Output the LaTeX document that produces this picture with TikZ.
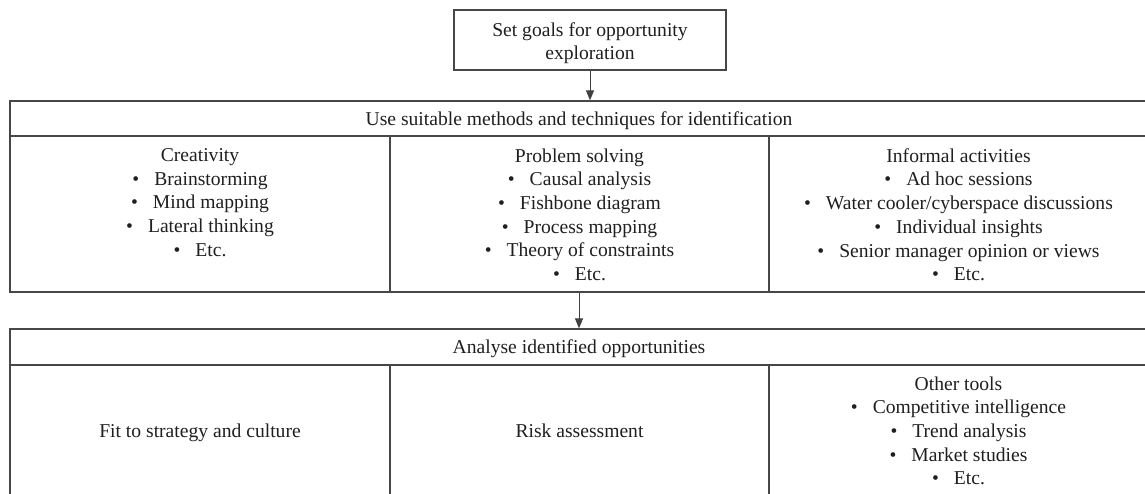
\documentclass[tikz,border=0pt]{standalone}
\usepackage{fontspec}
\setmainfont{Liberation Serif}
\usetikzlibrary{arrows.meta}
% one bullet entry of a centred list
\newcommand{\bul}[1]{\textbullet\hspace{15pt}#1}
\begin{document}
\begin{tikzpicture}[x=1pt,y=1pt,
  frame/.style={draw=black!72, line width=1.3pt, rectangle, inner sep=0pt},
  txt/.style={text=black!88, font=\fontsize{19.6pt}{23.7pt}\selectfont, align=center, inner sep=0pt},
  headtxt/.style={txt, text height=16pt, text depth=3pt},
  flow/.style={draw=black!75, line width=0.9pt, -{Triangle[width=8pt,length=10pt]}}]
\useasboundingbox (0,0) rectangle (1145,-493);
\clip (0,0) rectangle (1145,-493);

% goal setting
\node[frame, txt, minimum width=272pt, minimum height=60pt] (goals) at (590,-40)
  {\rule{0pt}{20pt}Set goals for opportunity\\exploration};

% identification methods
\node[frame, headtxt, minimum width=1138pt, minimum height=35pt] (head1) at (579,-118.5)
  {Use suitable methods and techniques for identification};
\node[frame, minimum width=380pt, minimum height=156pt] (cre) at (200,-214) {};
\node[frame, minimum width=379pt, minimum height=156pt] (ps) at (579.5,-214) {};
\node[frame, minimum width=379pt, minimum height=156pt] (inf) at (958.5,-214) {};
\node[txt, anchor=north] (creT) at (200,-148.2)
  {Creativity\\\bul{Brainstorming}\\\bul{Mind mapping}\\\bul{Lateral thinking}\\\bul{Etc.}};
\node[txt, anchor=north] (psT) at (579.5,-148.2)
  {Problem solving\\\bul{Causal analysis}\\\bul{Fishbone diagram}\\\bul{Process mapping}\\\bul{Theory of constraints}\\\bul{Etc.}};
\node[txt, anchor=north] (infT) at (958.5,-148.2)
  {Informal activities\\\bul{Ad hoc sessions}\\\bul{Water cooler/cyberspace discussions}\\\bul{Individual insights}\\\bul{Senior manager opinion or views}\\\bul{Etc.}};

% analysis of the opportunities
\node[frame, headtxt, minimum width=1138pt, minimum height=36pt] (head2) at (579,-347)
  {Analyse identified opportunities};
\node[frame, minimum width=380pt, minimum height=134pt] (fit) at (200,-432) {};
\node[frame, minimum width=379pt, minimum height=134pt] (risk) at (579.5,-432) {};
\node[frame, minimum width=379pt, minimum height=134pt] (other) at (958.5,-432) {};
\node[txt, anchor=base] (fitT) at (200,-437) {Fit to strategy and culture};
\node[txt, anchor=base] (riskT) at (579.5,-437) {Risk assessment};
\node[txt, anchor=north] (otherT) at (958.5,-376.2)
  {Other tools\\\bul{Competitive intelligence}\\\bul{Trend analysis}\\\bul{Market studies}\\\bul{Etc.}};

% flow between the stages
\draw[flow] (goals.south) -- (goals.south |- head1.north);
\draw[flow] (ps.south -| head2.north) -- (head2.north);
\end{tikzpicture}
\end{document}
